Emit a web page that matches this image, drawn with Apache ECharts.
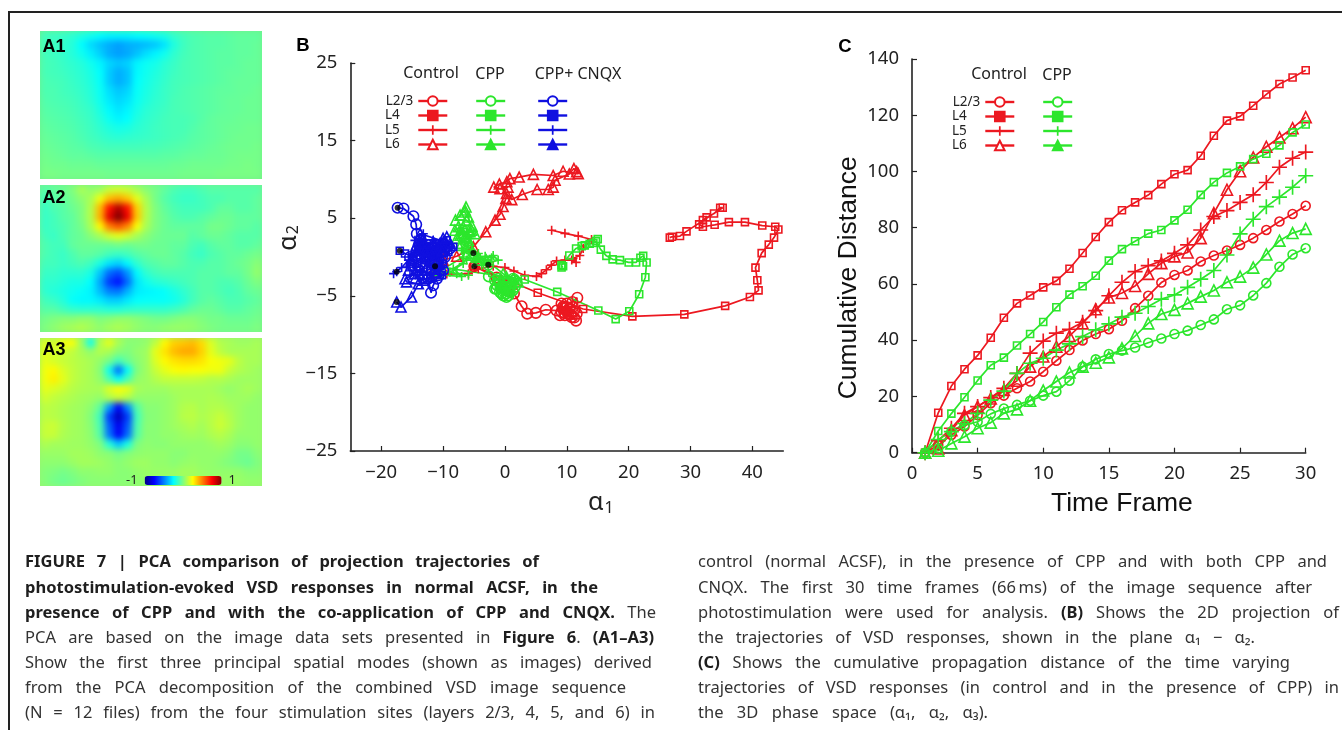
<!DOCTYPE html>
<html><head><meta charset="utf-8">
<script src="https://cdn.jsdelivr.net/npm/echarts@6/dist/echarts.min.js"></script>
<style>
html,body{margin:0;padding:0;background:#fff;overflow:hidden}
#main{position:absolute;left:0;top:0;width:1342px;height:730px;z-index:2}
.clip{position:absolute;overflow:hidden;z-index:1}
.heat{position:absolute;left:-12px;top:-12px;width:246px;height:172px;filter:blur(3px)}
</style></head><body>
<div class="clip" style="left:40px;top:31px;width:222px;height:148px"><div class="heat" id="a1"></div></div>
<div class="clip" style="left:40px;top:185px;width:222px;height:147px"><div class="heat" id="a2"></div></div>
<div class="clip" style="left:40px;top:338px;width:222px;height:148px"><div class="heat" id="a3"></div></div>
<div id="main"></div>
<script>
// ---------- Panel A: spatial modes (value x 100), 24 columns x 16 rows
const modeA1=[
[-12,-13,-14,-16,-19,-22,-25,-27,-27,-27,-25,-24,-22,-20,-15,-12,-10,-9,-8,-8,-7,-6,-6,-6],
[-12,-13,-15,-18,-25,-32,-37,-41,-44,-41,-40,-38,-36,-30,-19,-13,-10,-9,-8,-8,-7,-6,-6,-5],
[-12,-13,-15,-18,-22,-28,-34,-41,-44,-42,-37,-31,-27,-22,-16,-12,-10,-9,-8,-7,-7,-6,-6,-5],
[-11,-12,-14,-16,-18,-22,-27,-33,-36,-34,-27,-23,-21,-17,-14,-11,-10,-9,-8,-7,-7,-6,-5,-5],
[-11,-12,-13,-15,-17,-20,-25,-35,-41,-37,-26,-22,-19,-16,-13,-11,-10,-9,-8,-7,-6,-6,-5,-5],
[-10,-11,-12,-14,-16,-19,-24,-35,-41,-37,-25,-21,-18,-15,-12,-11,-10,-9,-8,-7,-6,-5,-5,-5],
[-10,-10,-12,-13,-15,-18,-23,-31,-36,-33,-24,-20,-17,-14,-12,-10,-9,-8,-7,-6,-6,-5,-5,-4],
[-9,-10,-11,-12,-14,-17,-22,-29,-33,-30,-23,-19,-16,-14,-11,-10,-9,-8,-7,-6,-5,-5,-4,-4],
[-8,-9,-10,-11,-13,-15,-20,-26,-30,-27,-21,-17,-15,-13,-11,-10,-9,-8,-7,-6,-5,-5,-4,-4],
[-7,-8,-9,-10,-12,-14,-18,-23,-27,-25,-19,-16,-14,-12,-11,-11,-10,-8,-6,-5,-5,-4,-4,-4],
[-6,-7,-8,-9,-11,-13,-16,-19,-21,-20,-17,-15,-13,-12,-11,-11,-9,-7,-6,-5,-4,-4,-3,-3],
[-5,-6,-7,-8,-10,-12,-14,-16,-17,-16,-15,-14,-13,-12,-11,-10,-8,-7,-6,-5,-4,-3,-3,-3],
[-4,-5,-6,-7,-8,-10,-11,-12,-12,-12,-12,-11,-11,-10,-9,-8,-7,-6,-5,-4,-3,-3,-3,-2],
[-3,-4,-5,-6,-6,-7,-8,-8,-8,-8,-8,-8,-8,-7,-7,-6,-5,-5,-4,-4,-3,-2,-2,-2],
[-2,-3,-3,-4,-4,-4,-5,-5,-5,-5,-5,-5,-5,-5,-4,-4,-3,-3,-3,-3,-2,-2,-1,-2],
[-1,-1,-2,-2,-2,-2,-2,-3,-3,-3,-3,-3,-3,-3,-3,-2,-2,-2,-2,-1,-1,-1,-1,-1]];
const modeA2=[
[-8,-6,-4,0,8,4,6,14,16,14,8,2,-2,-6,-10,-12,-12,-10,-8,-8,-8,-8,-8,-8],
[-12,-8,-6,-2,3,8,22,38,42,36,20,8,-2,-8,-12,-14,-14,-12,-10,-10,-8,-8,-8,-6],
[-14,-10,-8,-4,0,10,38,72,90,72,34,10,0,-6,-10,-12,-12,-12,-10,-6,-6,-8,-8,-6],
[-14,-12,-8,-6,0,10,40,80,100,78,36,10,0,-4,-8,-10,-10,-8,-6,-4,-4,-6,-6,-6],
[-14,-12,-10,-6,-2,8,26,50,58,48,24,8,0,-4,-6,-6,-6,-6,-2,-2,-4,-6,-6,-8],
[-12,-14,-10,-6,-4,2,8,16,20,16,8,2,-2,-4,-4,-4,-8,-6,-4,-4,-6,-8,-8,-8],
[-10,-12,-12,-6,-4,-4,-4,-4,-2,-4,-2,-2,-4,-4,-6,-6,-10,-12,-8,-6,-6,-8,-8,-6],
[-10,-12,-14,-10,-6,-6,-8,-12,-14,-12,-8,-6,-4,-4,-6,-8,-12,-14,-10,-8,-6,-6,-4,-2],
[-12,-12,-14,-12,-10,-13,-20,-30,-34,-26,-16,-10,-8,-6,-6,-8,-10,-10,-8,-8,-6,-4,-2,2],
[-14,-14,-16,-16,-16,-20,-36,-54,-60,-46,-26,-16,-12,-10,-10,-10,-10,-8,-8,-8,-6,-6,-2,4],
[-16,-16,-18,-20,-20,-25,-42,-64,-72,-54,-30,-22,-18,-16,-14,-12,-10,-8,-8,-10,-10,-8,-4,0],
[-16,-18,-20,-22,-24,-27,-38,-50,-52,-40,-29,-27,-26,-24,-20,-16,-12,-8,-8,-10,-12,-10,-6,-4],
[-12,-14,-18,-24,-26,-26,-29,-34,-34,-29,-25,-24,-24,-24,-22,-18,-12,-8,-6,-8,-10,-10,-8,-6],
[-8,-8,-12,-15,-16,-16,-16,-18,-18,-16,-15,-15,-15,-15,-13,-10,-6,-4,-4,-6,-8,-8,-6,-4],
[-2,0,2,2,4,4,0,2,4,4,2,0,-2,-2,0,2,2,0,-2,-2,-4,-4,-4,-2],
[0,3,6,8,10,7,4,7,9,7,4,2,2,4,5,5,4,2,0,-2,-2,-2,-2,0]];
const modeA3=[
[18,16,22,24,6,-22,10,20,8,2,2,4,12,26,34,36,38,32,18,10,8,6,6,8],
[20,17,16,13,8,4,10,8,2,0,4,6,20,30,38,42,42,34,20,12,8,8,8,8],
[20,17,14,12,10,8,4,-2,-12,-4,2,6,18,26,30,32,32,30,24,22,20,12,8,8],
[22,26,18,13,10,8,2,-22,-54,-24,0,6,14,20,24,26,24,24,22,22,14,10,8,6],
[22,28,20,13,10,8,4,-10,-24,-10,4,6,10,13,13,13,13,12,10,10,8,6,6,6],
[20,18,15,11,9,8,8,18,24,20,8,6,6,6,8,8,8,8,8,6,4,6,8,6],
[16,13,11,9,7,6,4,10,14,10,4,4,4,4,6,8,8,8,9,8,6,6,6,4],
[12,11,9,7,6,3,-6,-44,-76,-48,-8,2,2,4,6,10,11,8,10,10,8,6,4,4],
[12,11,9,7,6,1,-12,-64,-88,-64,-12,1,2,4,6,11,12,9,11,14,10,6,4,4],
[14,15,10,7,6,2,-10,-56,-78,-58,-10,2,2,4,6,8,10,7,11,15,11,6,4,4],
[14,14,9,7,6,3,-8,-52,-76,-54,-8,2,2,4,4,6,7,6,9,11,8,4,4,4],
[9,7,7,6,6,4,0,-18,-36,-20,0,3,2,2,4,4,4,4,5,7,5,2,2,4],
[5,5,5,7,7,6,3,2,-2,1,3,4,4,4,2,2,4,4,4,4,2,-2,-2,2],
[3,3,3,5,7,7,6,4,2,4,6,6,4,4,2,4,5,4,4,2,0,-2,-4,0],
[1,0,-2,0,3,3,4,4,2,2,4,5,5,5,5,7,7,5,4,4,4,4,2,2],
[1,-2,-4,-2,0,2,2,2,2,2,3,4,5,5,5,5,5,5,5,5,5,5,4,4]];

// ---------- Panel B: trajectories [alpha1, alpha2]
const bControlL23=[[-4.95,-1.2],[-1.35,-2.65],[.3,-3.7],[1.45,-4.7],[2.7,-6.35],[3.6,-7.3],[5,-7.2],[6.6,-6.8],[8.35,-6.9],[9.15,-6],[8.9,-7.5],[10,-6.45],[11,-6.45],[11.7,-5.25],[10.9,-5.8],[10,-6],[9.3,-6.6],[9.6,-7.2],[11.5,-8.2],[10.8,-7.75],[9.7,-7.5],[9.15,-7.1],[10.2,-7.3],[11,-7.1],[11.6,-7.3],[10.5,-6.65],[10,-7],[9.4,-6.4],[10.6,-7.4],[11.2,-7.8]];
const bControlL4=[[-4.95,-1.2],[5.3,-4.6],[12.65,-6.7],[20.6,-7.65],[29,-7.4],[35.6,-6.3],[39.6,-5.15],[41,-4.3],[40.8,-3],[40.5,-1.37],[41.5,.5],[42.65,1.6],[43.5,2.5],[44.2,3.55],[43.7,3.9],[41.6,4.05],[38.8,4.5],[36.2,4.5],[33.9,4.15],[32,3.9],[31.4,4.2],[32,4.75],[32.6,5.1],[33.8,5.6],[34.8,6.35],[35.2,6.35],[29.35,3.3],[28.3,2.7],[27,2.6],[26.65,2.5]];
const bControlL5=[[-11.4,-2.15],[-9.4,-2.2],[-5.9,-2.15],[-4.3,-1.5],[-1.9,-1.2],[0,-1.35],[1.45,-1.8],[3.2,-2.35],[5.1,-2.5],[5.9,-2.15],[6.7,-1.65],[7.5,-1.05],[8.35,-.5],[9.7,-.4],[10.8,-.4],[11.5,-.7],[11,-.2],[12.1,.2],[12.65,1.1],[14,2.25],[11.85,2.7],[9.7,3.05],[7.55,3.45]];
const bControlL6=[[-11.3,-1.2],[-10,-.4],[-7.8,.1],[-5.1,1.3],[-3.1,3.25],[-1.6,4.75],[-.8,5.5],[-.3,6.5],[.15,7.55],[.25,8.2],[1.1,7.4],[2.8,8.05],[5.2,8.7],[7,8.7],[7.8,9],[8.1,9.9],[10.4,10.7],[11.15,11.4],[11.85,10.75],[11.6,11],[9.4,11.05],[7.8,10.5],[4.6,10.65],[2.3,10.3],[.8,10.1],[.3,9.7],[-.9,9.4],[-1.8,9],[-.8,8.8],[.5,9]];
const bCppL23=[[-2.7,-1],[-2.6,-2.5],[-1.1,-2.8],[-1.6,-3],[-1.35,-4.1],[-.55,-4.7],[.55,-4.95],[1.25,-4.3],[1.9,-3.2],[1.35,-2.8],[.25,-3.45],[-.7,-3.95],[0,-4.2],[.8,-3.85],[-.25,-3.2],[-.8,-4.5],[.25,-4.7],[1.1,-3.65],[1.6,-3.85],[.55,-4.4],[-.25,-4.95],[-1.25,-3.65],[-.8,-3.45],[0,-3.85],[.8,-4.5],[1.45,-3],[.25,-5.15],[-.4,-4.3],[-1.6,-4.1],[-.9,-3.1]];
const bCppL4=[[-11.3,-1.2],[3.2,-2.9],[8.45,-4.5],[15.1,-6.9],[17.9,-8],[20.1,-7],[21.7,-4.8],[22.7,-2.6],[22.9,-.7],[22.35,.15],[21.9,-.1],[21.2,-.7],[20,-.7],[18.6,-.4],[17.4,-.3],[16.4,.15],[15.5,.95],[14.7,2.05],[15,2.3],[14.3,1.8],[13.7,1.7],[12.9,1.5],[12.4,1.4],[11.5,1.1],[10.4,.2],[9.15,-1.05],[9.15,-1.35],[9.4,-1.2]];
const bCppL5=[[-2.7,-1],[-2.15,-.1],[-3.2,.1],[-4.6,-.4],[-6.2,-.4],[-8.35,-1.5],[-7,-2.5],[-10,-2.35],[-11.6,-2.35],[-10.8,-1.95],[-6.75,0],[-5.9,1.75],[-5.1,3.25],[-6.75,3],[-5.65,2.4],[-7,.85],[-4.3,.45],[-3,-.85],[-4,-.2],[-5.4,.85],[-6.75,-.85],[-8.9,-1.95],[-7.8,-2.15],[-5.9,-2.35],[-4.85,-.65],[-1.9,.2],[-1.1,-.4],[-3.75,-1.05],[-6.2,2.8],[-7.25,3.65]];
const bCppL6=[[-5.1,.5],[-6.2,1.3],[-7,1.75],[-6.2,2.6],[-5.65,3.25],[-7.25,2.8],[-8.1,3.45],[-6.75,3.9],[-5.4,4.1],[-6.2,4.75],[-8,4.75],[-7.25,5.4],[-6.45,6.05],[-6.3,6.45],[-6.55,5.8],[-5.9,5.15],[-5.4,3.45],[-7.55,3.9],[-6.75,3],[-5.9,2.15],[-4.85,3],[-7.8,2.4],[-6.2,.45],[-4.6,0],[-3,-.4],[-.3,-2.15],[1.35,-2.8],[2.15,-3.2],[.8,-3.45],[.25,-2.55]];
const bCnqxL23=[[-17.35,6.35],[-16.4,6.25],[-14.8,5.25],[-14.35,4.2],[-14.25,3],[-13.6,2.15],[-12.65,1.1],[-14,.45],[-13.2,-.85],[-14.25,.85],[-12.1,-.4],[-13.45,1.3],[-15.35,0],[-11,.65],[-11.85,-1.7],[-10.75,-2.35],[-11.6,-3.65],[-11.95,-4.6],[-12.4,-2.8],[-10.5,-1.7],[-11,-.4],[-10.2,.65],[-10,1.75],[-10.75,-.4],[-11.3,-2.15],[-11,-2.8],[-9.7,0],[-8.9,1.1],[-10,-1.7],[-11.6,-.85]];
const bCnqxL4=[[-17,.8],[-16.15,.45],[-14.8,0],[-13.2,.65],[-11.6,1.3],[-10,1.75],[-9.15,1.5],[-10.5,-.4],[-12.1,-.85],[-11,-2.15],[-10,-.85],[-14,1.75],[-13.45,2.4],[-12.65,1.3],[-11.6,0],[-14.25,-.85],[-15.1,-1.3],[-13.2,-2.35],[-10.2,-2.35],[-10.75,.65],[-9.4,2.15],[-8.35,1.3],[-11.3,-1.7],[-12.9,-.4],[-13.7,.65],[-12.1,1.75],[-10,.65],[-9.15,.65],[-10.5,1.3],[-11,1.75]];
const bCnqxL5=[[-17.5,-1.9],[-18,-2.15],[-16.7,-1.35],[-15.6,-.4],[-14.55,.85],[-14,1.75],[-13.2,2.15],[-12.1,1.3],[-11,0],[-12.9,-.4],[-14.25,-1.3],[-15.35,-2.35],[-13.7,-1.7],[-12.4,-.85],[-11.3,.45],[-10.2,1.3],[-9.4,1.95],[-8.9,1.3],[-13.7,1.1],[-12.65,.45],[-11.6,2.15],[-10.75,.85],[-14.8,-.85],[-13.45,-3.45],[-12.1,-2.8],[-11,-1.7],[-14.55,2.15],[-15.9,-1.3],[-13.2,3],[-11.85,0]];
const bCnqxL6=[[-17.5,-5.8],[-16.8,-6.45],[-15.1,-5.15],[-14,-3.45],[-15.9,-3.2],[-16.15,-2.8],[-14.55,-2.15],[-13.2,-3],[-12.1,-2.55],[-10.75,-.85],[-12.65,0],[-14,1.3],[-13.2,1.75],[-11.6,1.95],[-10.5,1.75],[-9.4,2.6],[-10,2.4],[-8.9,1.75],[-13.7,3],[-15.1,-.4],[-15.6,-1.7],[-13.45,-1.7],[-11,1.3],[-12.65,-1.3],[-11.6,.65],[-12.9,.85],[-10.2,.85],[-14.25,.2],[-14.55,-2.8],[-12.1,-1.5]];
const bStarts=[[-17.35,6.35],[-17,.8],[-17.5,-1.9],[-17.5,-5.8],[-5.1,.5],[-4.95,-1.2],[-2.7,-1],[-11.3,-1.2]];

// ---------- Panel C: cumulative distance, frames 1..30
const frames=[1,2,3,4,5,6,7,8,9,10,11,12,13,14,15,16,17,18,19,20,21,22,23,24,25,26,27,28,29,30];
const cControlL23=[0,2.7,6.3,9.3,13.4,17.6,20.3,22.9,25.3,28.8,32.7,36.5,39.9,42.2,43.9,46.9,51.4,55.8,60.5,63.2,64.8,68,70.1,71.9,73.9,76.3,79.2,82.2,84.9,87.8];
const cControlL4=[0,14.2,23.7,29.7,34.6,40.9,48,53.1,55.9,58.8,61.1,65.4,71,76.7,82,86.2,89,91.6,95.5,99,100.5,105.6,112.7,118.1,119.6,123.4,127.4,131.1,133.4,136];
const cControlL5=[0,4.3,8.7,14,16.4,19.6,22.9,28.2,35.4,39.7,42.5,43.9,46.4,50.5,55.8,60.6,64.4,66.5,68.2,70.9,73.9,79.2,84,86.1,89,91.7,96.1,101.5,104.7,106.9];
const cControlL6=[0,1.5,8,13.4,16.4,19.3,22.3,25.6,30.6,34.2,37.7,41.5,46,51,55.2,56.8,59.3,63.6,67.4,69.8,71.2,76.3,85.2,93.5,100.1,105,108.8,112.1,115.4,119.3];
const cCppL23=[0,1.5,7.5,9.8,11,13.8,15.7,17,18.5,20.3,21.7,25.6,30.6,33.2,35.1,36.3,37.4,39.1,40.6,42.2,43.4,45.4,47.4,51,52.4,55.9,60.3,66.1,70.5,72.7];
const cCppL4=[0,7.7,13.9,19.7,25.7,31.1,33.8,38.1,42.2,46.5,51.7,56.2,59.2,62.9,68.3,72.4,75.2,77.9,79.2,82.6,86.4,91.7,96.2,99.5,101.8,104.4,106.3,109.3,113.9,116.7];
const cCppL5=[0,4.7,7.5,10.4,14,18.7,21.9,28.2,31.8,33.6,36.5,38.7,41.3,43.7,45.8,48.2,49.6,52,54.6,56.1,58.8,61.7,64.8,70.3,77.8,83,87.5,90.9,94.4,98.5];
const cCppL6=[0,.7,3.3,5.7,8.7,10.7,14,15.4,18.5,22.1,25.3,28.5,30.6,32,33.9,37.1,41.5,46,49.3,50.8,53.1,55.5,57.7,60.6,62.6,65.8,70.5,75.4,78.1,79.6];

// ---------- Tick labels and text
const bXTicks=[-20,-10,0,10,20,30,40];
const bYTicks=[-25,-15,-5,5,15,25];
const cXTicks=[0,5,10,15,20,25,30];
const cYTicks=[0,20,40,60,80,100,120,140];
const layers=['L2/3','L4','L5','L6'];
const captionLeft=[
"§FIGURE 7 | PCA comparison of projection trajectories of",
"photostimulation-evoked VSD responses in normal ACSF, in the",
"presence of CPP and with the co-application of CPP and CNQX.§ The",
"PCA are based on the image data sets presented in §Figure 6§. §(A1–A3)§",
"Show the first three principal spatial modes (shown as images) derived",
"from the PCA decomposition of the combined VSD image sequence",
"(N = 12 files) from the four stimulation sites (layers 2/3, 4, 5, and 6) in"];
const captionRight=[
"control (normal ACSF), in the presence of CPP and with both CPP and",
"CNQX. The first 30 time frames (66\u2009ms) of the image sequence after",
"photostimulation were used for analysis. §(B)§ Shows the 2D projection of",
"the trajectories of VSD responses, shown in the plane α₁ − α₂.",
"§(C)§ Shows the cumulative propagation distance of the time varying",
"trajectories of VSD responses (in control and in the presence of CPP) in",
"the 3D phase space (α₁, α₂, α₃)."];
const leftEnds=[539,598,656,654,652,626,655];
const rightEnds=[1327,1312,1339,1255,1290,1339,988];
const lineYs=[562,588,613,638,663,688,713];

// ---------- Styling
const RED='#ec1820',GREEN='#2ce62c',BLUE='#1010e0',INK='#222';
const JET=['#00007f','#0000ff','#007fff','#00ffff','#7fff7f','#ffff00','#ff7f00','#ff0000','#7f0000'];
const PLUS_B='path://M4.1 0h1.8v4.1H10v1.8H5.9V10H4.1V5.9H0V4.1h4.1z';
const PLUS_C='path://M4.45 0h1.1v4.45H10v1.1H5.55V10h-1.1V5.55H0v-1.1h4.45z';
const SANS='"Noto Sans"',HELV='"Liberation Sans"';

// ---------- Heat panels
[['a1',modeA1,'#72f08a'],['a2',modeA2,'#76f08e'],['a3',modeA3,'#98f470']].forEach(([id,rows,bg])=>{
  const c=echarts.init(document.getElementById(id));
  const data=[];rows.forEach((r,y)=>r.forEach((v,x)=>data.push([x,y,v/100])));
  const idx=n=>Array.from({length:n},(_,i)=>i);
  c.setOption({animation:false,backgroundColor:bg,
    grid:{left:12,top:12,right:12,bottom:12},
    xAxis:{type:'category',data:idx(24),show:false},
    yAxis:{type:'category',data:idx(16),inverse:true,show:false},
    visualMap:{show:false,min:-1,max:1,inRange:{color:JET}},
    series:[{type:'heatmap',data,progressive:0,itemStyle:{borderWidth:0}}]});
});

// ---------- Main chart
function traj(name,data,color,kind,grid,big){
  const size={circle:big?9:10.5,rect:big?7:7,plus:big?15:9,triangle:big?11:10}[kind];
  const open=kind!=='plus';
  return {name,type:'line',xAxisIndex:grid,yAxisIndex:grid,data,showAllSymbol:true,
    symbol:kind==='plus'?(big?PLUS_C:PLUS_B):kind,symbolSize:size,clip:false,
    lineStyle:{color,width:1.7},
    itemStyle:{color:open?'rgba(0,0,0,0)':color,borderColor:color,borderWidth:open?1.6:0},
    emphasis:{disabled:true},silent:true};
}
const pair=(vals)=>vals.map((v,i)=>[frames[i],v]);
const kinds=['circle','rect','plus','triangle'];
const series=[];
[['Control',RED,[bControlL23,bControlL4,bControlL5,bControlL6]],
 ['CPP',GREEN,[bCppL23,bCppL4,bCppL5,bCppL6]],
 ['CPP+ CNQX',BLUE,[bCnqxL23,bCnqxL4,bCnqxL5,bCnqxL6]]].forEach(([cond,col,sets])=>{
  sets.forEach((d,i)=>series.push(traj(cond+' '+layers[i],d,col,kinds[i],0,false)));
});
series.push({type:'scatter',xAxisIndex:0,yAxisIndex:0,data:bStarts,symbolSize:6,z:5,silent:true,itemStyle:{color:'#000'}});
[['Control',RED,[cControlL23,cControlL4,cControlL5,cControlL6]],
 ['CPP',GREEN,[cCppL23,cCppL4,cCppL5,cCppL6]]].forEach(([cond,col,sets])=>{
  sets.forEach((d,i)=>series.push(traj(cond+' '+layers[i],pair(d),col,kinds[i],1,true)));
});

function legendCol(cond,col,left,top,withLabels){
  const fills=[ '#fff',col,col,cond==='Control'?'#fff':col ];
  return {left,top,orient:'vertical',align:withLabels?'right':'left',selectedMode:false,
    itemWidth:29,itemHeight:12,itemGap:0.5,padding:0,symbolSize:'inherit',
    lineStyle:{width:2.4},
    textStyle:{fontFamily:SANS,fontSize:13.5,lineHeight:12,color:INK},
    formatter:withLabels?(n=>{const t=n.split(' ').pop();return t==='L2/3'?t:t+'\u2002\u2002';}):(()=>' '),
    data:layers.map((l,i)=>({name:cond+' '+l,itemStyle:{color:fills[i]}}))};
}
function axis(type,min,max,ticks,fmt,margin,extra){
  return Object.assign({type:'value',min,max,splitLine:{show:false},
    axisLine:{onZero:false,lineStyle:{color:INK,width:1.6}},
    axisTick:{inside:true,length:5,customValues:ticks,lineStyle:{color:INK,width:1.2}},
    axisLabel:{customValues:ticks,margin,color:INK,fontFamily:SANS,fontSize:18.5,formatter:fmt,showMinLabel:true,showMaxLabel:true}},extra||{});
}
const minus=v=>String(v).replace('-','−');
const alpha=n=>'{a|α}{s|'+n+'}';
const alphaRich={a:{fontFamily:SANS,fontSize:25,color:INK},s:{fontFamily:SANS,fontSize:16,color:INK,verticalAlign:'bottom',padding:[10,0,0,1]}};

// caption built word by word so each line is justified to its reference width
const mctx=document.createElement('canvas').getContext('2d');
const capFont=b=>(b?'bold ':'')+'16.5px "Noto Sans"';
function captionElements(lines,x0,ends){
  const out=[];
  let bold=false;
  lines.forEach((ln,i)=>{
    const words=[];
    ln.split(' ').forEach(w=>{
      const parts=w.split('§');const segs=[];
      parts.forEach((p,k)=>{if(k>0)bold=!bold;if(p)segs.push([p,bold]);});
      if(segs.length)words.push(segs);
    });
    const wd=s=>{mctx.font=capFont(s[1]);return mctx.measureText(s[0]).width;};
    const w=words.map(g=>g.reduce((a,s)=>a+wd(s),0));
    const gap=(ends[i]-x0-w.reduce((a,b)=>a+b,0))/(words.length-1);
    let x=x0;
    words.forEach((g,j)=>{
      let xx=x;
      g.forEach(s=>{
        out.push({type:'text',x:xx,y:lineYs[i],silent:true,style:{text:s[0],font:capFont(s[1]),fill:s[1]?'#1e1e1e':'#333',verticalAlign:'middle'}});
        xx+=wd(s);
      });
      x+=w[j]+gap;
    });
  });
  return out;
}
const label=(t,x,y,font,fill)=>({type:'text',x,y,silent:true,style:{text:t,font,fill:fill||INK,verticalAlign:'middle',align:'center'}});
const graphicEls=[
  {type:'rect',silent:true,shape:{x:8,y:11,width:1334,height:2},style:{fill:INK}},
  {type:'rect',silent:true,shape:{x:8,y:11,width:2,height:719},style:{fill:INK}},
  label('A1',54,47,'bold 18px '+HELV,'#000'),label('A2',54,198,'bold 18px '+HELV,'#000'),label('A3',54,350,'bold 18px '+HELV,'#000'),
  label('B',303,46,'bold 18.5px '+HELV,'#000'),label('C',845,47,'bold 18.5px '+HELV,'#000'),
  label('Control',431,73,'16px '+SANS),label('CPP',490,74,'16px '+SANS),label('CPP+ CNQX',578,74,'16px '+SANS),
  label('Control',999,74,'16px '+SANS),label('CPP',1057,75,'16px '+SANS),
  ...captionElements(captionLeft,25,leftEnds),
  ...captionElements(captionRight,698,rightEnds)
];
const chart=echarts.init(document.getElementById('main'));
chart.setOption({animation:false,backgroundColor:'transparent',
  grid:[{left:350.3,top:63,width:433,height:388},{left:912,top:59,width:393.7,height:393.7}],
  xAxis:[
    axis('value',-25,45,bXTicks,minus,12,{gridIndex:0,name:alpha(1),nameLocation:'middle',nameGap:39,nameTextStyle:{rich:alphaRich,padding:[0,0,0,68]}}),
    axis('value',0,30,cXTicks,minus,12,{gridIndex:1,name:'Time Frame',nameLocation:'middle',nameGap:37,nameTextStyle:{fontFamily:HELV,fontSize:26.5,color:'#111',padding:[0,0,0,26]}})
  ],
  yAxis:[
    axis('value',-25,25,bYTicks,minus,13,{gridIndex:0,name:alpha(2),nameLocation:'middle',nameGap:34,nameTextStyle:{rich:alphaRich,padding:[0,0,0,38]}}),
    axis('value',0,140,cYTicks,minus,13,{gridIndex:1,name:'Cumulative Distance',nameLocation:'middle',nameGap:50,nameTextStyle:{fontFamily:HELV,fontSize:26.5,color:'#111',padding:[0,44,0,0]}})
  ],
  legend:[
    legendCol('Control',RED,385,94,true),
    legendCol('CPP',GREEN,475,94,false),
    legendCol('CPP+ CNQX',BLUE,537,94,false),
    legendCol('Control',RED,952,95,true),
    legendCol('CPP',GREEN,1042,95,false)
  ],
  visualMap:{type:'continuous',seriesIndex:[],min:-1,max:1,calculable:false,orient:'horizontal',left:126,top:474,
    itemWidth:9,itemHeight:77,text:['1','-1'],textGap:7,padding:0,inRange:{color:JET},textStyle:{fontFamily:SANS,fontSize:13,color:INK}},
  graphic:{elements:graphicEls},
  series
});
</script></body></html>
